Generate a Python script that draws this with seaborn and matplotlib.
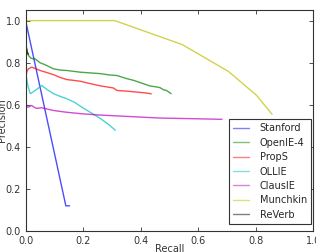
import pandas as pd
import seaborn as sns
import matplotlib
matplotlib.use('Agg')
import matplotlib.pyplot as plt

# precision/recall curves
stanford_r = [0.0, 0.14, 0.153]
stanford_p = [1.0, 0.12, 0.12]

openie_r = [0.0, 0.002, 0.005, 0.01, 0.02, 0.033, 0.05, 0.068, 0.097, 0.12, 0.143, 0.19, 0.22, 0.26, 0.29, 0.318, 0.35, 0.376, 0.41, 0.434, 0.46, 0.468, 0.48, 0.49, 0.506]
openie_p = [0.92, 0.88, 0.85, 0.834, 0.82, 0.818, 0.8, 0.79, 0.771, 0.765, 0.763, 0.755, 0.752, 0.748, 0.742, 0.739, 0.725, 0.716, 0.7, 0.689, 0.684, 0.681, 0.671, 0.668, 0.653]

props_r = [0.0, 0.005, 0.01, 0.021, 0.035, 0.05, 0.07, 0.097, 0.12, 0.143, 0.19, 0.22, 0.26, 0.305, 0.318, 0.35, 0.39, 0.42, 0.437]
props_p = [0.73, 0.76, 0.771, 0.779, 0.772, 0.763, 0.755, 0.743, 0.73, 0.72, 0.712, 0.702, 0.69, 0.68, 0.668, 0.665, 0.66, 0.656, 0.652]

ollie_r = [0.0, 0.003, 0.008, 0.016, 0.025, 0.04, 0.056, 0.075, 0.097, 0.12, 0.143, 0.17, 0.2, 0.23, 0.26, 0.29, 0.312]
ollie_p = [0.708, 0.73, 0.69, 0.653, 0.66, 0.675, 0.692, 0.672, 0.653, 0.64, 0.629, 0.612, 0.585, 0.56, 0.535, 0.505, 0.479]

clausie_r = [0.0, 0.003, 0.006, 0.012, 0.021, 0.03, 0.039, 0.055, 0.068, 0.097, 0.14, 0.19, 0.25, 0.35, 0.468, 0.58, 0.683]
clausie_p = [0.62, 0.6, 0.589, 0.59, 0.597, 0.588, 0.583, 0.586, 0.582, 0.573, 0.565, 0.558, 0.552, 0.545, 0.537, 0.534, 0.531]

munchkin_r = [0.0, 0.31, 0.545, 0.706, 0.803, 0.857]
munchkin_p = [1.0, 1.0, 0.886, 0.758, 0.645, 0.555]

reverb_r = [0.0, 0.003, 0.006, 0.01]
reverb_p = [0.9, 0.87, 0.85, 0.84]

systems = ['Stanford', 'OpenIE-4', 'PropS', 'OLLIE', 'ClausIE', 'Munchkin', 'ReVerb']
recalls = [stanford_r, openie_r, props_r, ollie_r, clausie_r, munchkin_r, reverb_r]
precisions = [stanford_p, openie_p, props_p, ollie_p, clausie_p, munchkin_p, reverb_p]
colors = ['#0000ff', '#008000', '#ff0000', '#00bfbf', '#bf00bf', '#bfbf00', '#000000']

rows = []
for name, rs, ps in zip(systems, recalls, precisions):
    for r, p in zip(rs, ps):
        rows.append({'system': name, 'Recall': r, 'Precision': p})
df = pd.DataFrame(rows)

sns.set_style('ticks')
plt.rcParams['font.family'] = ['DejaVu Sans']
plt.rcParams['xtick.direction'] = 'in'
plt.rcParams['ytick.direction'] = 'in'
plt.rcParams['xtick.top'] = True
plt.rcParams['ytick.right'] = True

fig = plt.figure(figsize=(3.16, 2.52), dpi=100)
ax = fig.add_axes([0.081, 0.083, 0.91, 0.877])

sns.lineplot(data=df, x='Recall', y='Precision', hue='system', hue_order=systems,
             palette=dict(zip(systems, colors)), sort=False, estimator=None,
             linewidth=1.0, alpha=0.7, ax=ax)

ax.set_xlim(0, 1)
ax.set_ylim(0, 1.05)
ax.set_xticks([0.0, 0.2, 0.4, 0.6, 0.8, 1.0])
ax.set_yticks([0.0, 0.2, 0.4, 0.6, 0.8, 1.0])
ax.tick_params(labelsize=7, length=3, width=0.6, colors='#333333', labelcolor='#333333')
ax.set_xlabel('Recall', fontsize=7, color='#333333')
ax.set_ylabel('Precision', fontsize=7, color='#333333')
ax.xaxis.set_label_coords(0.5, -0.058)
ax.yaxis.set_label_coords(-0.066, 0.5)
for s in ax.spines.values():
    s.set_color('#333333')
    s.set_linewidth(0.8)

leg = ax.legend(loc='lower right', bbox_to_anchor=(1.01, 0.01), fontsize=7,
                labelspacing=0.45, handlelength=1.6, handletextpad=1.1,
                fancybox=False, framealpha=1, borderpad=0.45)
leg.get_frame().set_edgecolor('#333333')
leg.get_frame().set_linewidth(0.8)
for line in leg.get_lines():
    line.set_alpha(0.5)

fig.savefig('out.png', dpi=100, facecolor='w')
